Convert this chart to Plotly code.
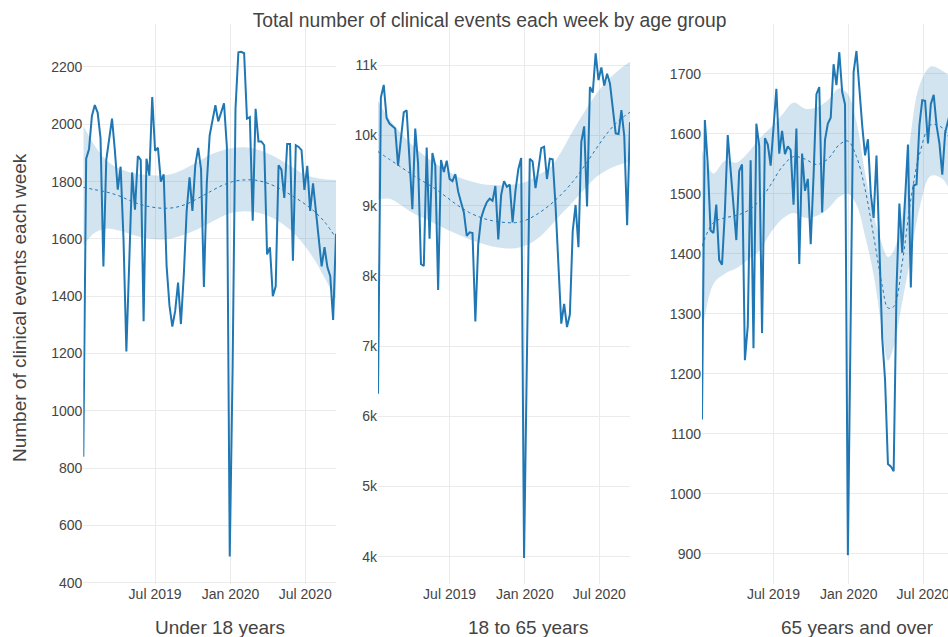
import pandas as pd
import plotly.graph_objects as go

# ---------------- data ----------------
week_start = "2019-01-07"
n_weeks = 89
weeks = pd.date_range(week_start, periods=n_weeks, freq="7D")

panel_titles = ["Under 18 years", "18 to 65 years", "65 years and over"]
chart_title = "Total number of clinical events each week by age group"
y_title = "Number of clinical events each week"

under18 = [840, 1880, 1914, 2029, 2067, 2041, 1952, 1504, 1876, 1940,
           2020, 1908, 1772, 1852, 1600, 1207, 1560, 1832, 1702, 1889,
           1876, 1313, 1880, 1821, 2095, 1908, 1918, 1800, 1825, 1507,
           1368, 1294, 1349, 1448, 1303, 1476, 1698, 1815, 1698, 1857,
           1918, 1844, 1432, 1794, 1961, 2010, 2067, 2010, 2040, 2073,
           1921, 492, 1150, 2054, 2251, 2253, 2248, 2020, 2025, 1664,
           2054, 1940, 1940, 1927, 1546, 1571, 1400, 1435, 1857, 1842,
           1743, 1931, 1931, 1524, 1927, 1921, 1910, 1771, 1855, 1698,
           1794, 1705, 1603, 1504, 1571, 1502, 1470, 1317, 1618]

age18_65 = [6320, 10540, 10720, 10250, 10170, 10130, 10100, 9570, 10000, 10330,
            10360, 9600, 8950, 10100, 9600, 8170, 8140, 9830, 8530, 9750,
            9570, 7800, 9650, 9480, 9640, 9380, 9350, 9450, 9200, 9050,
            8900, 8570, 8620, 8610, 7350, 8450, 8820, 8950, 9050, 9100,
            9070, 9280, 8520, 9150, 9350, 9270, 9300, 8760, 9210, 9520,
            9680, 3980, 6600, 9670, 9630, 9250, 9520, 9820, 9840, 9380,
            9670, 9660, 9000, 8100, 7320, 7600, 7270, 7450, 8640, 9010,
            8410, 9910, 10130, 8990, 10690, 10610, 11170, 10790, 10970, 10710,
            10880, 10740, 10380, 10030, 10020, 10360, 9990, 8720, 10190]

over65 = [1124, 1623, 1550, 1439, 1435, 1482, 1390, 1382, 1470, 1598,
          1540, 1475, 1423, 1538, 1549, 1223, 1280, 1556, 1243, 1617,
          1580, 1268, 1593, 1582, 1547, 1610, 1675, 1567, 1605, 1566,
          1579, 1573, 1482, 1609, 1383, 1567, 1505, 1525, 1416, 1530,
          1666, 1678, 1469, 1590, 1617, 1627, 1716, 1681, 1736, 1670,
          1649, 898, 1300, 1703, 1738, 1668, 1614, 1564, 1591, 1500,
          1460, 1564, 1400, 1260, 1190, 1050, 1046, 1038, 1341, 1484,
          1402, 1493, 1582, 1344, 1514, 1516, 1614, 1656, 1655, 1584,
          1650, 1665, 1614, 1584, 1532, 1602, 1623, 1640, 1600]

# smoothed trend (fit) and confidence band, sampled at selected weeks
smooth_weeks_a = [0, 4, 8, 12, 16, 20, 24, 28, 32, 36, 40, 44,
                  48, 52, 56, 60, 64, 68, 72, 76, 80, 84, 88]
u18_fit = [1780, 1772, 1764, 1752, 1735, 1720, 1711, 1707, 1710, 1722, 1742, 1764,
           1785, 1800, 1806, 1805, 1795, 1778, 1755, 1730, 1700, 1660, 1603]
u18_hi = [1995, 1925, 1875, 1848, 1833, 1826, 1822, 1822, 1830, 1848, 1870, 1893,
          1908, 1917, 1920, 1914, 1900, 1880, 1855, 1830, 1815, 1808, 1806]
u18_lo = [1578, 1622, 1636, 1630, 1618, 1606, 1600, 1598, 1605, 1618, 1635, 1656,
          1677, 1692, 1697, 1693, 1682, 1662, 1632, 1590, 1535, 1465, 1390]

mid_fit = [9770, 9660, 9550, 9440, 9340, 9240, 9120, 9000, 8900, 8830, 8785, 8762,
           8758, 8800, 8890, 9010, 9160, 9340, 9560, 9800, 10030, 10210, 10330]
mid_hi = [10490, 10230, 10030, 9860, 9720, 9600, 9500, 9410, 9350, 9310, 9295, 9290,
          9305, 9345, 9440, 9540, 9770, 10060, 10330, 10580, 10780, 10930, 11050]
mid_lo = [9085, 9100, 9010, 8900, 8820, 8740, 8660, 8590, 8520, 8465, 8420, 8395,
          8395, 8440, 8540, 8700, 8880, 9050, 9230, 9400, 9510, 9580, 9630]

smooth_weeks_b = [0, 4, 8, 12, 16, 20, 24, 28, 32, 36, 40, 44, 48, 51, 54,
                  57, 60, 63, 65, 67, 70, 73, 76, 80, 84, 88]
o65_fit = [1413, 1452, 1460, 1464, 1472, 1488, 1515, 1545, 1562, 1558, 1549, 1558, 1582,
           1588, 1562, 1508, 1430, 1347, 1310, 1312, 1385, 1490, 1565, 1615, 1610, 1575]
o65_hi = [1573, 1534, 1555, 1552, 1568, 1592, 1610, 1632, 1652, 1642, 1644, 1656, 1676,
          1666, 1620, 1535, 1465, 1415, 1395, 1405, 1465, 1600, 1680, 1712, 1705, 1690]
o65_lo = [1262, 1350, 1367, 1376, 1390, 1405, 1435, 1458, 1468, 1460, 1463, 1475, 1495,
          1500, 1482, 1430, 1365, 1272, 1222, 1245, 1320, 1395, 1475, 1530, 1525, 1490]

# ---------------- styling ----------------
LINE = "#1f77b4"
BAND = "rgba(31,119,180,0.2)"
GRID = "#ebebeb"
TXT = "#444444"
FONT = "Arial, Liberation Sans, sans-serif"

panels = [
    (under18, smooth_weeks_a, u18_fit, u18_lo, u18_hi),
    (age18_65, smooth_weeks_a, mid_fit, mid_lo, mid_hi),
    (over65, smooth_weeks_b, o65_fit, o65_lo, o65_hi),
]

fig = go.Figure()
for k, (vals, sidx, fit, lo, hi) in enumerate(panels):
    xa = "x" if k == 0 else f"x{k+1}"
    ya = "y" if k == 0 else f"y{k+1}"
    sdates = weeks[sidx]
    fig.add_trace(go.Scatter(x=sdates, y=lo, mode="lines", line=dict(width=0, shape="spline", color=BAND),
                             xaxis=xa, yaxis=ya, hoverinfo="skip"))
    fig.add_trace(go.Scatter(x=sdates, y=hi, mode="lines", fill="tonexty", fillcolor=BAND,
                             line=dict(width=0, shape="spline", color=BAND),
                             xaxis=xa, yaxis=ya, hoverinfo="skip"))
    fig.add_trace(go.Scatter(x=sdates, y=fit, mode="lines",
                             line=dict(width=1, dash="dot", shape="spline", color=LINE),
                             xaxis=xa, yaxis=ya))
    fig.add_trace(go.Scatter(x=weeks, y=vals, mode="lines", line=dict(width=2, color=LINE),
                             xaxis=xa, yaxis=ya))

W, H = 948, 637
top_px, bot_px = 24, 584

common_x = dict(type="date", dtick="M6", tick0="2019-01-01", tickformat="%b %Y",
                showgrid=True, gridcolor=GRID, gridwidth=1, zeroline=False, showline=False,
                ticks="", automargin=False, ticklabeloverflow="allow",
                tickfont=dict(size=14, color=TXT))
common_y = dict(domain=[0, 1], showgrid=True, gridcolor=GRID, gridwidth=1, zeroline=False,
                showline=False, ticks="", automargin=False, tickfont=dict(size=14, color=TXT))

fig.update_layout(
    width=W, height=H,
    margin=dict(l=0, r=0, t=top_px, b=H - bot_px),
    paper_bgcolor="white", plot_bgcolor="white",
    font=dict(family=FONT, size=14, color=TXT),
    showlegend=False,
    title=dict(text=chart_title, x=489.5 / W, xanchor="center", xref="paper",
               yref="container", y=1 - 20 / H, yanchor="middle", font=dict(size=19.3, color=TXT)),
    xaxis=dict(common_x, domain=[83.3 / W, 336 / W], anchor="y",
               range=[weeks[0], weeks[-1]]),
    xaxis2=dict(common_x, domain=[378 / W, 630 / W], anchor="y2",
                range=[weeks[0], weeks[-1]]),
    xaxis3=dict(common_x, domain=[702 / W, 1.0], anchor="y3",
                range=[weeks[0], pd.Timestamp("2020-08-31")]),
    yaxis=dict(common_y, anchor="x", range=[396, 2350], dtick=200),
    yaxis2=dict(common_y, anchor="x2", range=[3611, 11588], dtick=1000),
    yaxis3=dict(common_y, anchor="x3", range=[850, 1783], dtick=100),
)

ph = bot_px - top_px
title_centers = [219.5, 527.5, 857.5]
for t, cx in zip(panel_titles, title_centers):
    fig.add_annotation(text=t, xref="paper", yref="paper", x=cx / W, y=(bot_px - 627.5) / ph,
                       xanchor="center", yanchor="middle", showarrow=False,
                       font=dict(size=19, color=TXT))
fig.add_annotation(text=y_title, xref="paper", yref="paper", x=19 / W, y=(bot_px - 308) / ph,
                   xanchor="center", yanchor="middle", textangle=-90, showarrow=False,
                   font=dict(size=19, color=TXT))

# remove the default page margin so the figure sits at the window's top-left corner
fig.write_html("out.html", config={"displayModeBar": False},
               post_script="document.body.style.margin='0';document.body.style.overflow='hidden';")
